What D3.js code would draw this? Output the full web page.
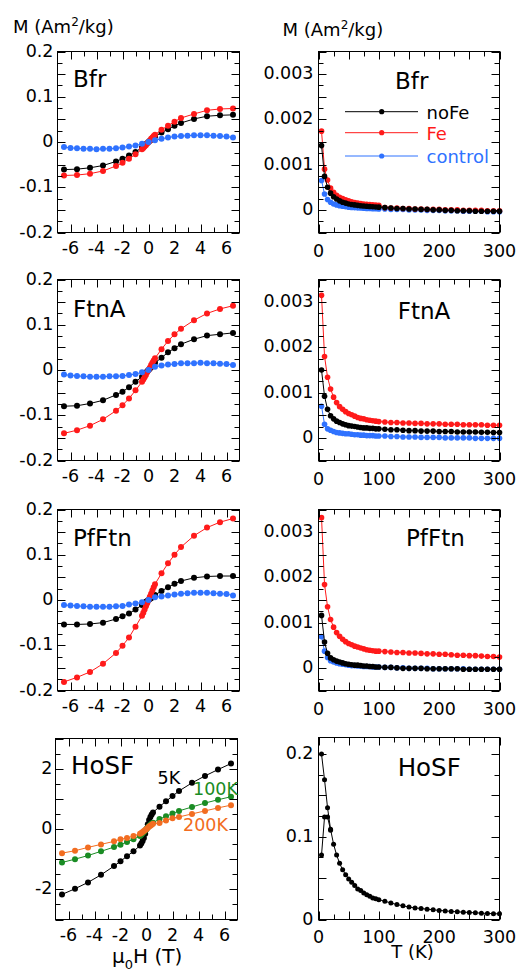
<!DOCTYPE html>
<html>
<head>
<meta charset="utf-8">
<script src="https://cdn.jsdelivr.net/npm/d3@7.9.0/dist/d3.min.js"></script>
<style>
  body { margin: 0; background: #fff; }
  svg { display: block; font-family: "DejaVu Sans", sans-serif; }
</style>
</head>
<body>
<svg id="chart" width="516" height="973"></svg>
<script>
// ---- field sweeps (T) ----
const fieldH = [-6.5, -5.5, -4.5, -3.5, -2.5, -2, -1.5, -1, -0.5, -0.4, -0.3, -0.2, -0.1, 0,
  0.1, 0.2, 0.3, 0.4, 0.5, 1, 1.5, 2, 2.5, 3.5, 4.5, 5.5, 6.5];
const fieldHalf = [-6.5, -6, -5.5, -5, -4.5, -4, -3.5, -3, -2.5, -2, -1.5, -1, -0.5, 0,
  0.5, 1, 1.5, 2, 2.5, 3, 3.5, 4, 4.5, 5, 5.5, 6, 6.5];

// M(H), Am2/kg
const bfrNoFeH = [-0.061, -0.060, -0.057, -0.052, -0.043, -0.037, -0.030, -0.022, -0.012, -0.010, -0.008, -0.005, -0.003, 0,
  0.003, 0.005, 0.008, 0.010, 0.012, 0.021, 0.028, 0.036, 0.042, 0.051, 0.057, 0.059, 0.060];
const bfrFeH = [-0.074, -0.073, -0.070, -0.064, -0.053, -0.046, -0.037, -0.027, -0.016, -0.013, -0.010, -0.007, -0.003, 0,
  0.003, 0.007, 0.010, 0.013, 0.016, 0.027, 0.036, 0.045, 0.053, 0.062, 0.070, 0.073, 0.074];
const bfrCtrlH = [-0.011, -0.013, -0.014, -0.015, -0.015, -0.016, -0.015, -0.015, -0.014, -0.012, -0.010, -0.008, -0.004, 0,
  0.004, 0.007, 0.010, 0.012, 0.013, 0.014, 0.015, 0.015, 0.015, 0.014, 0.013, 0.012, 0.010];

const ftnNoFeH = [-0.080, -0.079, -0.074, -0.067, -0.055, -0.048, -0.038, -0.026, -0.015, -0.012, -0.009, -0.006, -0.003, 0,
  0.003, 0.006, 0.010, 0.013, 0.016, 0.027, 0.039, 0.048, 0.057, 0.068, 0.076, 0.079, 0.082];
const ftnFeH = [-0.140, -0.133, -0.123, -0.109, -0.090, -0.078, -0.063, -0.045, -0.026, -0.021, -0.016, -0.011, -0.005, 0,
  0.005, 0.011, 0.016, 0.021, 0.026, 0.046, 0.064, 0.079, 0.091, 0.110, 0.125, 0.135, 0.142];
const ftnCtrlH = [-0.010, -0.012, -0.013, -0.014, -0.015, -0.015, -0.015, -0.014, -0.014, -0.013, -0.011, -0.009, -0.005, 0,
  0.007, 0.010, 0.012, 0.013, 0.015, 0.015, 0.015, 0.016, 0.015, 0.015, 0.014, 0.013, 0.011];

const pfNoFeH = [-0.054, -0.054, -0.053, -0.050, -0.042, -0.036, -0.030, -0.021, -0.011, -0.009, -0.007, -0.004, -0.002, 0,
  0.002, 0.004, 0.007, 0.009, 0.011, 0.020, 0.028, 0.036, 0.042, 0.049, 0.052, 0.053, 0.053];
const pfFeH = [-0.181, -0.171, -0.159, -0.141, -0.117, -0.101, -0.083, -0.059, -0.035, -0.028, -0.021, -0.014, -0.007, 0,
  0.007, 0.014, 0.021, 0.028, 0.035, 0.059, 0.081, 0.100, 0.117, 0.142, 0.160, 0.172, 0.180];
const pfCtrlH = [-0.011, -0.012, -0.013, -0.014, -0.015, -0.015, -0.015, -0.015, -0.014, -0.013, -0.010, -0.008, -0.005, 0,
  0.006, 0.008, 0.010, 0.012, 0.014, 0.015, 0.016, 0.016, 0.016, 0.015, 0.014, 0.013, 0.010];

const ho5K = [-2.17, -1.98, -1.77, -1.52, -1.23, -1.07, -0.90, -0.74, -0.55, -0.48, -0.40, -0.30, -0.16, 0,
  0.16, 0.30, 0.40, 0.48, 0.55, 0.74, 0.92, 1.09, 1.26, 1.53, 1.76, 1.97, 2.17];
const ho100K = [-1.11, -1.00, -0.88, -0.74, -0.60, -0.52, -0.43, -0.34, -0.23, -0.19, -0.14, -0.10, -0.05, 0,
  0.05, 0.10, 0.14, 0.18, 0.21, 0.33, 0.42, 0.51, 0.60, 0.73, 0.86, 0.97, 1.07];
const ho200K = [-0.80, -0.72, -0.61, -0.51, -0.41, -0.34, -0.30, -0.23, -0.16, -0.13, -0.10, -0.07, -0.03, 0,
  0.04, 0.08, 0.11, 0.14, 0.17, 0.20, 0.28, 0.36, 0.40, 0.50, 0.60, 0.70, 0.79];

// ---- temperature sweeps (K) ----
const tempT = [5, 10, 15, 20, 25, 30, 35, 40, 45, 50, 55, 60, 65, 70, 75, 80, 85, 90, 95, 100,
  110, 120, 130, 140, 150, 160, 170, 180, 190, 200, 210, 220, 230, 240, 250, 260, 270, 280, 290, 300];

const bfrNoFeT = [0.00142, 0.00074, 0.00050, 0.00037, 0.00029, 0.00024, 0.00020, 0.00017, 0.00015, 0.00013,
  0.00012, 0.00011, 0.00010, 0.00009, 0.000085, 0.00008, 0.000075, 0.00007, 0.000065, 0.00006,
  0.00005, 0.00004, 0.00003, 0.00003, 0.00002, 0.00002, 0.00001, 0.00001, 0, 0,
  -0.00001, -0.00001, -0.00002, -0.00002, -0.00002, -0.00003, -0.00003, -0.00003, -0.00003, -0.00003];
const bfrFeT = [0.00174, 0.00090, 0.00066, 0.00048, 0.00039, 0.00032, 0.00028, 0.00025, 0.00022, 0.00020,
  0.00018, 0.00016, 0.00015, 0.00014, 0.00013, 0.000125, 0.000115, 0.00011, 0.000105, 0.00010,
  0.00005, 0.00004, 0.00004, 0.00003, 0.00003, 0.00002, 0.00002, 0.00001, 0.00001, 0.00001,
  0, 0, 0, -0.00001, -0.00001, -0.00001, -0.00001, -0.00002, -0.00002, -0.00002];
const bfrCtrlT = [0.00065, 0.00035, 0.00023, 0.00017, 0.00013, 0.00011, 0.00009, 0.00008, 0.00007, 0.00006,
  0.000055, 0.00005, 0.000045, 0.00004, 0.000035, 0.00003, 0.00003, 0.000025, 0.000025, 0.00002,
  0.00002, 0.00001, 0.00001, 0.00001, 0, 0, 0, -0.00001, -0.00001, -0.00001,
  -0.00002, -0.00002, -0.00002, -0.00003, -0.00003, -0.00003, -0.00003, -0.00004, -0.00004, -0.00004];

const ftnNoFeT = [0.00150, 0.00092, 0.00063, 0.00049, 0.00042, 0.00037, 0.00034, 0.00031, 0.00029, 0.00027,
  0.00026, 0.00025, 0.00024, 0.00023, 0.00022, 0.00022, 0.00021, 0.00021, 0.00020, 0.00020,
  0.00019, 0.00018, 0.00018, 0.00017, 0.00016, 0.00016, 0.00015, 0.00015, 0.00015, 0.00014,
  0.00014, 0.00014, 0.00013, 0.00013, 0.00013, 0.00013, 0.000125, 0.000125, 0.00012, 0.00012];
const ftnFeT = [0.00315, 0.00180, 0.00134, 0.00108, 0.00090, 0.00078, 0.00069, 0.00063, 0.00058, 0.00054,
  0.00051, 0.00048, 0.00045, 0.00043, 0.00042, 0.00040, 0.00039, 0.00038, 0.00037, 0.00036,
  0.00035, 0.00034, 0.00034, 0.00033, 0.00033, 0.00032, 0.00032, 0.00031, 0.00031, 0.00031,
  0.00030, 0.00030, 0.00030, 0.00029, 0.00029, 0.00029, 0.00029, 0.00028, 0.00028, 0.00028];
const ftnCtrlT = [0.00070, 0.00030, 0.00020, 0.00017, 0.00014, 0.00012, 0.00011, 0.00010, 0.00009, 0.00009,
  0.00008, 0.00007, 0.00007, 0.00006, 0.00006, 0.00005, 0.00005, 0.00005, 0.00004, 0.00004,
  0.00004, 0.00003, 0.00003, 0.00002, 0.00002, 0.00002, 0.00001, 0.00001, 0.00001, 0.00001,
  0, 0, 0, 0, 0, -0.00001, -0.00001, -0.00001, -0.00001, -0.00001];

const pfNoFeT = [0.00116, 0.00057, 0.00032, 0.00022, 0.00018, 0.00015, 0.00013, 0.00011, 0.00009, 0.00008,
  0.00007, 0.00006, 0.00006, 0.00005, 0.00004, 0.00004, 0.00003, 0.00003, 0.00002, 0.00002,
  0.00001, 0.00001, 0, -0.00001, -0.00001, -0.00001, -0.00001, -0.00002, -0.00002, -0.00002,
  -0.00002, -0.00002, -0.00002, -0.00003, -0.00003, -0.00003, -0.00003, -0.00003, -0.00003, -0.00003];
const pfFeT = [0.00332, 0.00184, 0.00135, 0.00107, 0.00090, 0.00078, 0.00070, 0.00063, 0.00058, 0.00054,
  0.00051, 0.00048, 0.00046, 0.00044, 0.00042, 0.00040, 0.00039, 0.00038, 0.00037, 0.00037,
  0.00036, 0.00035, 0.00034, 0.00034, 0.00033, 0.00033, 0.00032, 0.00031, 0.00031, 0.00030,
  0.00030, 0.00029, 0.00028, 0.00028, 0.00027, 0.00027, 0.00026, 0.00025, 0.00025, 0.00024];
const pfCtrlT = [0.00069, 0.00037, 0.00023, 0.00016, 0.00013, 0.00011, 0.00009, 0.00008, 0.00007, 0.00006,
  0.00005, 0.00005, 0.00004, 0.00004, 0.00003, 0.00003, 0.00003, 0.00002, 0.00002, 0.00002,
  0.00001, 0.00001, 0, 0, -0.00001, -0.00001, -0.00001, -0.00001, -0.00002, -0.00002,
  -0.00002, -0.00002, -0.00002, -0.00002, -0.00003, -0.00003, -0.00003, -0.00003, -0.00003, -0.00003];

const hoT = [5, 10, 15, 20, 25, 30, 35, 40, 45, 50, 55, 60, 65, 70, 75, 80, 85, 90, 95, 100,
  110, 120, 130, 140, 150, 160, 170, 180, 190, 200, 210, 220, 230, 240, 250, 260, 270, 280, 290, 300];
const hoM = [0.200, 0.169, 0.135, 0.109, 0.091, 0.078, 0.068, 0.060, 0.054, 0.049,
  0.045, 0.041, 0.037, 0.035, 0.032, 0.030, 0.028, 0.026, 0.025, 0.024,
  0.022, 0.020, 0.018, 0.0165, 0.015, 0.014, 0.0133, 0.0125, 0.0117, 0.011,
  0.0104, 0.0098, 0.0093, 0.0089, 0.0085, 0.0081, 0.0077, 0.0073, 0.0070, 0.0068];
const hoT2 = [5, 10, 15, 20];
const hoM2 = [0.078, 0.124, 0.124, 0.108];

const colors = { noFe: '#000000', Fe: '#ff1a1a', control: '#2f72ff', k5: '#000000', k100: '#1a8c24', k200: '#f26d21' };
const legendNames = ['noFe', 'Fe', 'control'];

const svg = d3.select('#chart');
const zip = (xs, ys) => xs.map((x, i) => [x, ys[i]]);

// panels (frames in px)
const leftPanels = [
  { title: 'Bfr', tx: 73, ty: 87.3, box: [57.5, 239.5, 51.5, 232.5],
    series: [[fieldH, bfrNoFeH, colors.noFe], [fieldH, bfrFeH, colors.Fe], [fieldHalf, bfrCtrlH, colors.control]] },
  { title: 'FtnA', tx: 73, ty: 316.7, box: [57.5, 239.5, 279.5, 460.5],
    series: [[fieldH, ftnNoFeH, colors.noFe], [fieldH, ftnFeH, colors.Fe], [fieldHalf, ftnCtrlH, colors.control]] },
  { title: 'PfFtn', tx: 73, ty: 546, box: [57.5, 239.5, 509.5, 690.5],
    series: [[fieldH, pfNoFeH, colors.noFe], [fieldH, pfFeH, colors.Fe], [fieldHalf, pfCtrlH, colors.control]] },
];
const rightPanels = [
  { title: 'Bfr', tx: 395, ty: 89.3, box: [318.5, 499.5, 51.5, 232.5],
    series: [[tempT, bfrCtrlT, colors.control], [tempT, bfrFeT, colors.Fe], [tempT, bfrNoFeT, colors.noFe]] },
  { title: 'FtnA', tx: 397.7, ty: 319, box: [318.5, 499.5, 279.5, 460.5],
    series: [[tempT, ftnCtrlT, colors.control], [tempT, ftnFeT, colors.Fe], [tempT, ftnNoFeT, colors.noFe]] },
  { title: 'PfFtn', tx: 406, ty: 546, box: [318.5, 499.5, 509.5, 690.5],
    series: [[tempT, pfCtrlT, colors.control], [tempT, pfFeT, colors.Fe], [tempT, pfNoFeT, colors.noFe]] },
];

function ticksFrom(start, step, n, longEvery) {
  return d3.range(n).map((i) => ({ v: +(start + i * step).toFixed(6), long: i % longEvery === 0 }));
}

function drawFrame(x, y, xt, yt) {
  const [x0, x1] = x.range();
  const [y1, y0] = y.range();
  const g = svg.append('g').attr('stroke', '#000').attr('stroke-width', 1);
  g.append('rect').attr('x', x0).attr('y', y0).attr('width', x1 - x0).attr('height', y1 - y0).attr('fill', 'none');
  xt.forEach((t) => {
    const px = Math.round(x(t.v)) + 0.5;
    const L = t.long ? 8 : 5;
    g.append('line').attr('x1', px).attr('x2', px).attr('y1', y1).attr('y2', y1 - L);
    g.append('line').attr('x1', px).attr('x2', px).attr('y1', y0).attr('y2', y0 + L);
  });
  yt.forEach((t) => {
    const py = Math.round(y(t.v)) + 0.5;
    const L = t.long ? 8 : 5;
    g.append('line').attr('y1', py).attr('y2', py).attr('x1', x0).attr('x2', x0 + L);
    g.append('line').attr('y1', py).attr('y2', py).attr('x1', x1).attr('x2', x1 - L);
  });
}

function drawLabels(x, y, xLabels, yLabels, xOff, yGap) {
  const [x0] = x.range();
  const [y1] = y.range();
  svg.append('g').selectAll('text').data(xLabels).join('text')
    .attr('x', (d) => x(d)).attr('y', y1 + xOff)
    .attr('text-anchor', 'middle').attr('font-size', 17.5).text((d) => String(d));
  svg.append('g').selectAll('text').data(yLabels).join('text')
    .attr('x', x0 - yGap).attr('y', (d) => y(d) + 5)
    .attr('text-anchor', 'end').attr('font-size', 17.5).text((d) => String(d));
}

function drawSeries(x, y, xs, ys, color, r) {
  const pts = zip(xs, ys);
  svg.append('path').datum(pts)
    .attr('fill', 'none').attr('stroke', color).attr('stroke-width', 1)
    .attr('d', d3.line().x((d) => x(d[0])).y((d) => y(d[1])));
  svg.append('g').selectAll('circle').data(pts).join('circle')
    .attr('cx', (d) => x(d[0])).attr('cy', (d) => y(d[1])).attr('r', r).attr('fill', color);
}

function title(t, x, y, size = 23) {
  svg.append('text').attr('x', x).attr('y', y).attr('font-size', size).text(t);
}

// left column: M vs H
leftPanels.forEach((p) => {
  const x = d3.scaleLinear().domain([-7, 7]).range([p.box[0], p.box[1]]);
  const y = d3.scaleLinear().domain([-0.2, 0.2]).range([p.box[3], p.box[2]]);
  p.series.forEach(([xs, ys, c]) => drawSeries(x, y, xs, ys, c, 3));
  drawFrame(x, y, ticksFrom(-6, 1, 13, 2), ticksFrom(-0.2, 0.025, 17, 2));
  drawLabels(x, y, [-6, -4, -2, 0, 2, 4, 6], [-0.2, -0.1, 0, 0.1, 0.2], 21, 4);
  title(p.title, p.tx, p.ty);
});

// right column: M vs T
rightPanels.forEach((p, i) => {
  const x = d3.scaleLinear().domain([0, 300]).range([p.box[0], p.box[1]]);
  const y = d3.scaleLinear().domain([-0.0005, 0.0035]).range([p.box[3], p.box[2]]);
  p.series.forEach(([xs, ys, c]) => drawSeries(x, y, xs, ys, c, 2.8));
  drawFrame(x, y, ticksFrom(0, 25, 13, 2), ticksFrom(-0.0005, 0.00025, 17, 2));
  drawLabels(x, y, [0, 100, 200, 300], [0, 0.001, 0.002, 0.003], 24, 5);
  title(p.title, p.tx, p.ty);
  if (i === 0) {
    const ly = [111.7, 132.7, 156];
    const lc = [colors.noFe, colors.Fe, colors.control];
    legendNames.forEach((name, k) => {
      svg.append('line').attr('x1', 345).attr('x2', 418).attr('y1', ly[k]).attr('y2', ly[k])
        .attr('stroke', lc[k]).attr('stroke-width', 1);
      svg.append('circle').attr('cx', 381.7).attr('cy', ly[k]).attr('r', 2.6).attr('fill', lc[k]);
      svg.append('text').attr('x', 426.5).attr('y', ly[k] + 7).attr('font-size', 18)
        .attr('fill', lc[k]).text(name);
    });
  }
});

// HoSF, M vs H
{
  const x = d3.scaleLinear().domain([-7, 7]).range([55.5, 237.5]);
  const y = d3.scaleLinear().domain([-3, 3]).range([919.5, 738.5]);
  drawSeries(x, y, fieldH, ho5K, colors.k5, 3);
  drawSeries(x, y, fieldH, ho100K, colors.k100, 3);
  drawSeries(x, y, fieldH, ho200K, colors.k200, 3);
  drawFrame(x, y, ticksFrom(-6, 1, 13, 2), ticksFrom(-3, 0.5, 13, 2));
  drawLabels(x, y, [-6, -4, -2, 0, 2, 4, 6], [-2, 0, 2], 21, 3);
  title('HoSF', 71, 774, 24.5);
  svg.append('text').attr('x', 157.5).attr('y', 784).attr('font-size', 17.5).attr('fill', colors.k5).text('5K');
  svg.append('text').attr('x', 193).attr('y', 795).attr('font-size', 17.5).attr('fill', colors.k100).text('100K');
  svg.append('text').attr('x', 183).attr('y', 831).attr('font-size', 17.5).attr('fill', colors.k200).text('200K');
  const t = svg.append('text').attr('x', 112).attr('y', 963).attr('font-size', 20);
  t.append('tspan').text('μ');
  t.append('tspan').attr('font-size', 13).attr('dy', 6).text('0');
  t.append('tspan').attr('dy', -6).text('H (T)');
}

// HoSF, M vs T
{
  const x = d3.scaleLinear().domain([0, 300]).range([318.5, 499.5]);
  const y = d3.scaleLinear().domain([0, 0.22]).range([919.5, 737.5]);
  drawSeries(x, y, hoT, hoM, '#000', 2.5);
  drawSeries(x, y, hoT2, hoM2, '#000', 2.5);
  drawFrame(x, y, ticksFrom(0, 25, 13, 2), ticksFrom(0, 0.025, 9, 2));
  drawLabels(x, y, [0, 100, 200, 300], [0, 0.1, 0.2], 23, 5);
  title('HoSF', 397.7, 776, 24.5);
  svg.append('text').attr('x', 412.5).attr('y', 958).attr('text-anchor', 'middle').attr('font-size', 18).text('T (K)');
}

// column headers
[[13, 33], [282.5, 36]].forEach(([hx, hy]) => {
  const t = svg.append('text').attr('x', hx).attr('y', hy).attr('font-size', 18);
  t.append('tspan').text('M (Am');
  t.append('tspan').attr('font-size', 12).attr('dy', -7).text('2');
  t.append('tspan').attr('dy', 7).text('/kg)');
});
</script>
</body>
</html>
